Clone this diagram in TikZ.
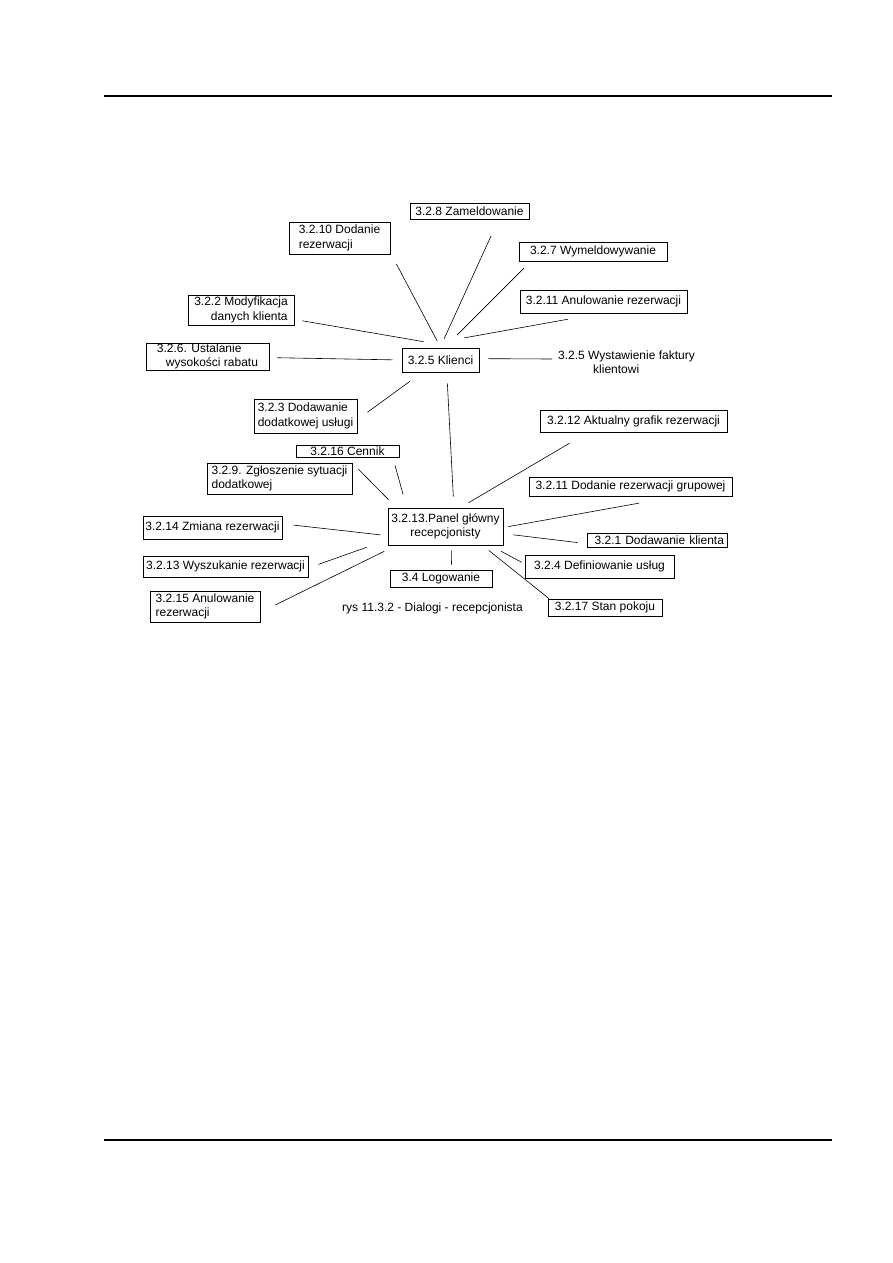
\documentclass[tikz,border=0pt]{standalone}
\usepackage{fontspec}
\setmainfont{Liberation Sans}
\usetikzlibrary{positioning}

\begin{document}
\begin{tikzpicture}[x=1pt,y=-1pt,
  txt/.style={font=\fontsize{12}{14.5}\selectfont},
  box/.style={txt,draw,line width=0.7pt,inner sep=0pt},
  link/.style={line width=0.6pt}]
  \useasboundingbox (0,0) rectangle (893,1263);
  % page rules
  \draw[line width=1.2pt] (104,96) -- (832,96);
  \draw[line width=1.2pt] (104,1140) -- (832,1140);
  % hubs
  \node[box,minimum width=77pt,minimum height=24pt] (kl) at (440.5,360) {3.2.5 Klienci};
  \node[box,minimum width=115pt,minimum height=37pt,align=center] (pan) at (445.5,526.5) {3.2.13.Panel główny\\recepcjonisty};
  % dialogs round Klienci
  \node[box,minimum width=119pt,minimum height=16pt] (zam) at (469.5,211) {3.2.8 Zameldowanie};
  \node[box,minimum width=101pt,minimum height=32pt,align=left] (dod10) at (339.5,238) {3.2.10 Dodanie\\rezerwacji};
  \node[box,minimum width=148pt,minimum height=19pt] (wym) at (593,251.5) {3.2.7 Wymeldowywanie};
  \node[box,minimum width=167pt,minimum height=23pt] (anu11) at (603.5,301.5) {3.2.11 Anulowanie rezerwacji};
  \node[box,minimum width=106pt,minimum height=30pt,align=right] (mod) at (241,310) {3.2.2 Modyfikacja\\danych klienta};
  \node[box,minimum width=123pt,minimum height=27pt,align=left] (ust) at (207.5,356.5) {3.2.6. Ustalanie\\\hspace*{9pt}wysokości rabatu};
  \node[txt,inner xsep=6pt,inner ysep=0pt,anchor=base west] (fak) at (552,359)
    {\begin{tabular}[t]{@{}l@{}}3.2.5 Wystawienie faktury\\\hspace*{35pt}klientowi\end{tabular}};
  \node[box,minimum width=103pt,minimum height=34pt,align=left] (dus) at (305.5,416) {3.2.3 Dodawanie\\dodatkowej usługi};
  % dialogs round the panel
  \node[box,minimum width=103pt,minimum height=12pt] (cen) at (347.5,451) {3.2.16 Cennik};
  \node[box,minimum width=145pt,minimum height=31pt,align=left] (zgl) at (279.5,478.5) {3.2.9. Zgłoszenie sytuacji\\dodatkowej};
  \node[box,minimum width=187pt,minimum height=22pt] (graf) at (633.5,421) {3.2.12 Aktualny grafik rezerwacji};
  \node[box,minimum width=203pt,minimum height=19pt] (grup) at (630.5,486.5) {3.2.11 Dodanie rezerwacji grupowej};
  \node[box,minimum width=139pt,minimum height=23pt] (zmi) at (212.5,527.5) {3.2.14 Zmiana rezerwacji};
  \node[box,minimum width=140pt,minimum height=14pt,inner xsep=3pt,text width=134pt,align=right] (dkl) at (657,540) {3.2.1 Dodawanie klienta};
  \node[box,minimum width=165pt,minimum height=21pt] (wys) at (225.5,566.5) {3.2.13 Wyszukanie rezerwacji};
  \node[box,minimum width=149pt,minimum height=23pt] (def) at (599.5,566.5) {3.2.4 Definiowanie usług};
  \node[box,minimum width=102pt,minimum height=17pt] (log) at (441,578.5) {3.4 Logowanie};
  \node[box,minimum width=110pt,minimum height=31pt,align=left] (anu15) at (205,606.5) {3.2.15 Anulowanie\\rezerwacji};
  \node[box,minimum width=114pt,minimum height=17pt] (stan) at (605,607.5) {3.2.17 Stan pokoju};
  % caption
  \node[txt] (cap) at (432.5,608) {rys 11.3.2 - Dialogi - recepcjonista};
  % links of Klienci
  \draw[link,shorten <=7.9pt,shorten >=12.8pt] (kl.89) -- (dod10.-16.2);
  \draw[link,shorten <=9.8pt,shorten >=18.5pt] (kl.92) -- (zam.-16.6);
  \draw[link,shorten <=18.2pt,shorten >=9.8pt] (kl.72.9) -- (wym.-171.4);
  \draw[link,shorten <=55pt,shorten >=33.1pt] (kl.158) -- (anu11.-104.6);
  \draw[link,shorten <=35.1pt,shorten >=8.1pt] (kl.35.1) -- (mod.-10.3);
  \draw[link,shorten <=9pt,shorten >=8pt] (kl.180) -- (ust.-1.3);
  \draw[link,shorten <=9pt] (kl.2.8) -- (fak.base west);
  \draw[link,shorten <=15.1pt,shorten >=12.5pt] (kl.-146.9) -- (dus.-4.9);
  \draw[link,shorten <=11pt,shorten >=11pt] (kl.-63.8) -- (pan.66.4);
  % links of the panel
  \draw[link,shorten <=11.3pt,shorten >=8.5pt] (pan.159.1) -- (zgl.12.1);
  \draw[link,shorten <=13.7pt,shorten >=8.4pt] (pan.154.7) -- (cen.-8.2);
  \draw[link,shorten <=9.7pt,shorten >=21.4pt] (pan.52.5) -- (graf.-166.9);
  \draw[link,shorten <=5.1pt,shorten >=38.3pt] (pan.-1.4) -- (grup.-12.2);
  \draw[link,shorten <=10.1pt,shorten >=9pt] (pan.-7.3) -- (dkl.-177.5);
  \draw[link,shorten <=12.5pt,shorten >=3.4pt] (pan.-23) -- (def.178.5);
  \draw[link,shorten <=8pt] (pan.-27.7) -- (stan.171.5);
  \draw[link,shorten <=5pt,shorten >=5pt] (pan.-73.4) -- (log.40.4);
  \draw[link,shorten <=13.6pt,shorten >=16.7pt] (pan.-159) -- (anu15.-6.1);
  \draw[link,shorten <=22.4pt,shorten >=10.7pt] (pan.-167.4) -- (wys.-1.5);
  \draw[link,shorten <=7pt,shorten >=11.1pt] (pan.-171.8) -- (zmi.3.9);
\end{tikzpicture}
\end{document}
